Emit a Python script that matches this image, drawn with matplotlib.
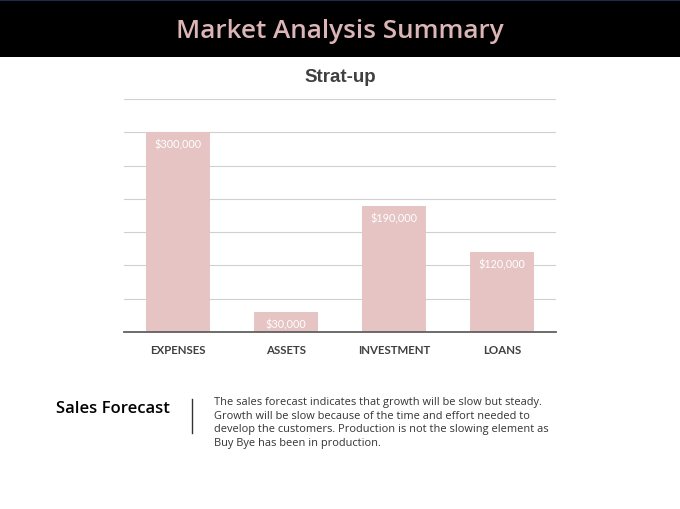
import matplotlib
matplotlib.use('Agg')
import matplotlib.pyplot as plt
from matplotlib.patches import Rectangle
from matplotlib.lines import Line2D

categories = ['EXPENSES', 'ASSETS', 'INVESTMENT', 'LOANS']
values = [300000, 30000, 190000, 120000]
value_labels = ['$300,000', '$30,000', '$190,000', '$120,000']

header_text = 'Market Analysis Summary'
chart_title = 'Strat-up'
side_title = 'Sales Forecast'
side_text = ('The sales forecast indicates that growth will be slow but steady.\n'
             'Growth will be slow because of the time and effort needed to\n'
             'develop the customers. Production is not the slowing element as\n'
             'Buy Bye has been in production.')

bar_color = '#e6c4c4'
title_pink = '#dcb6b6'

fig = plt.figure(figsize=(6.8, 5.1), dpi=100)
W, H = 680, 510

def fx(px):
    return px / W

def fy(py):
    return 1 - py / H

# header band
fig.patches.append(Rectangle((0, fy(58)), 1, 58 / H, transform=fig.transFigure,
                             facecolor='black', edgecolor='none', zorder=0))
fig.lines.append(Line2D([0, 1], [fy(1), fy(1)], transform=fig.transFigure,
                        color='#1f2a4a', lw=1.5))
fig.text(0.5, fy(31), header_text, ha='center', va='center', color=title_pink,
         fontsize=18.8, fontfamily='Open Sans', fontweight='semibold')

# chart
ax = fig.add_axes([fx(124), fy(333), fx(556) - fx(124), (333 - 100) / H])
x = range(len(categories))
ax.bar(x, values, width=0.6, color=bar_color, zorder=2)
ax.set_xlim(-0.5, len(categories) - 0.5)
ax.set_ylim(0, 350000)
ax.set_yticks(range(0, 350001, 50000))
ax.yaxis.grid(True, color='#d0d0d0', lw=0.8, zorder=0)
ax.tick_params(axis='y', left=False, labelleft=False)
ax.tick_params(axis='x', bottom=False, pad=5)
ax.set_xticks(list(x))
ax.set_xticklabels(categories, fontfamily='Lato', fontweight='bold', fontsize=8.3,
                   color='#404040')
for s in ['left', 'right', 'top']:
    ax.spines[s].set_visible(False)
ax.spines['bottom'].set_color('#606060')
ax.spines['bottom'].set_linewidth(1.3)
ax.spines['bottom'].set_zorder(3)

for i, (v, lab) in enumerate(zip(values, value_labels)):
    ax.annotate(lab, (i, v), xytext=(0, -12), textcoords='offset pixels',
                ha='center', va='center', color='white', fontsize=7.8, fontfamily='Lato', zorder=4)

fig.text(0.5, fy(77), chart_title, ha='center', va='center', color='#404040',
         fontsize=13.5, fontfamily='Liberation Sans', fontweight='bold')

# bottom text section
fig.text(fx(56), fy(409), side_title, ha='left', va='center', color='black',
         fontsize=12, fontfamily='Open Sans', fontweight='semibold')
fig.lines.append(Line2D([fx(192), fx(192)], [fy(400), fy(434)], transform=fig.transFigure,
                        color='#333333', lw=1))
fig.text(fx(214), fy(397), side_text, ha='left', va='top', color='#333333',
         fontsize=7.9, fontfamily='Open Sans', linespacing=1.33)

fig.savefig('out.png', dpi=100)
